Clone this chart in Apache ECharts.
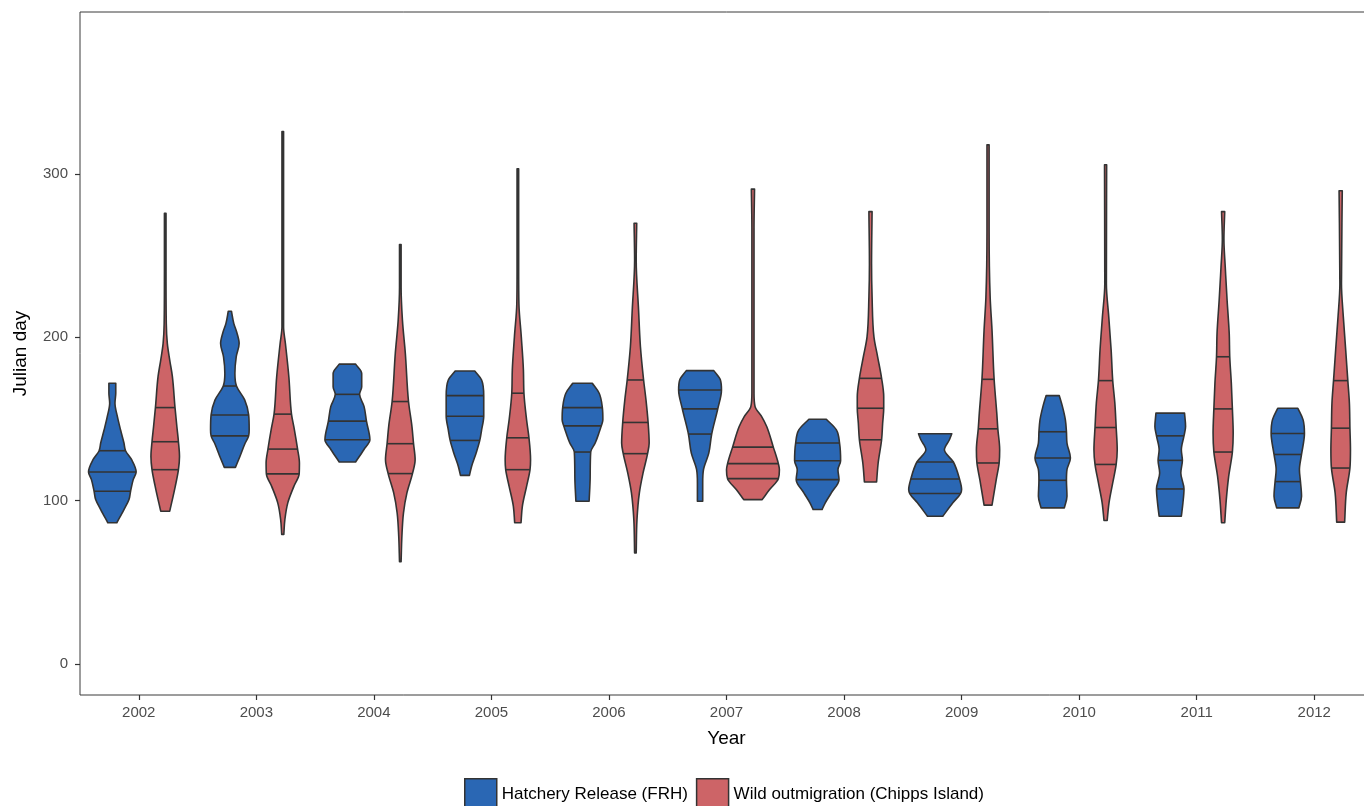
<!DOCTYPE html>
<html>
<head>
<meta charset="utf-8">
<title>Julian day by year</title>
<script src="https://cdn.jsdelivr.net/npm/echarts@6/dist/echarts.min.js"></script>
<style>
  html, body { margin: 0; padding: 0; background: #ffffff; overflow: hidden; }
  /* the panel runs on past the right edge of the window */
  #chart { width: 1376px; height: 806px; }
</style>
</head>
<body>
<div id="chart"></div>
<script>
// Years on the category axis
const years = ['2002', '2003', '2004', '2005', '2006', '2007', '2008', '2009', '2010', '2011', '2012'];
const yTicks = [0, 100, 200, 300];

// Density profiles, bottom to top: [julian day, relative density (1 = widest violin)]
const hatcheryProfiles = [
  [[86.4, .17], [94.5, .44], [100.6, .63], [105.7, .69], [112.8, .79], [117.5, .90], [125, .73], [130.5, .50], [135.2, .44], [143.3, .31], [151.5, .19], [159.6, .10], [165.7, .13], [171.8, .13]],
  [[120.3, .21], [127, .38], [135.2, .58], [139.6, .71], [143.3, .73], [152.4, .71], [161.6, .56], [170.1, .25], [177.8, .19], [188, .24], [196.1, .35], [203, .26], [208.3, .15], [215.9, .06]],
  [[123.6, .31], [131.1, .62], [137.2, .85], [148.6, .72], [157.5, .63], [165, .46], [169.7, .54], [177.8, .54], [183.5, .31]],
  [[115.4, .17], [120.9, .25], [129, .42], [136.8, .56], [143.3, .63], [151.6, .71], [164.2, .71], [173.8, .63], [179.3, .37]],
  [[99.6, .25], [114.8, .29], [129.7, .31], [135.2, .48], [141.3, .62], [145.7, .71], [149.4, .77], [156.9, .75], [165.7, .63], [171.8, .37]],
  [[99.6, .10], [110.8, .10], [118.9, .13], [129, .33], [140.7, .44], [156.1, .67], [167.7, .81], [173.8, .77], [179.5, .52]],
  [[94.5, .17], [98.6, .29], [104.7, .52], [112.8, .81], [118.9, .77], [124.4, .87], [135.2, .83], [143.3, .71], [149.8, .33]],
  [[90.4, .29], [98.6, .67], [104.3, .96], [106.7, 1.0], [113.2, .92], [123.6, .69], [131.1, .35], [137.2, .54], [140.9, .63]],
  [[95.5, .44], [102.6, .54], [112.4, .52], [118.9, .54], [126, .67], [135.2, .54], [142.1, .52], [149.4, .48], [157.5, .37], [164.2, .25]],
  [[90.4, .42], [98.6, .48], [107.1, .52], [116.9, .40], [124.6, .46], [131.1, .42], [139.6, .52], [145.3, .58], [153.5, .54]],
  [[95.5, .42], [102.6, .52], [111.6, .48], [118.9, .44], [128.2, .52], [141, .63], [149.4, .58], [156.5, .38]]
];

const wildProfiles = [
  [[93.5, .17], [108.7, .38], [118.9, .50], [127, .54], [136, .50], [145.3, .44], [156.9, .37], [176, .27], [186, .17], [196, .08], [208.3, .04], [240, .03], [275.8, .03]],
  [[79.3, .04], [88.4, .08], [98.6, .19], [108.7, .42], [116.3, .62], [123, .63], [131.5, .56], [143.3, .44], [152.9, .33], [175.8, .23], [196.1, .10], [206.3, .03], [260, .03], [325.8, .03]],
  [[62.6, .03], [78.3, .06], [92.5, .12], [104.7, .25], [116.5, .46], [125, .56], [134.8, .50], [145.3, .44], [160.6, .31], [190, .19], [210.4, .08], [230.7, .03], [256.7, .03]],
  [[86.4, .12], [96.5, .17], [108.7, .33], [118.9, .46], [125, .48], [138.4, .42], [149.4, .33], [165.7, .23], [179.9, .21], [200.2, .13], [220.5, .04], [240, .03], [303, .03]],
  [[67.9, .03], [88.4, .06], [104.7, .15], [116.9, .29], [128.7, .46], [135.2, .52], [147.8, .48], [161.6, .40], [173.8, .31], [194.1, .19], [216.5, .12], [247, .03], [269.7, .05]],
  [[100.6, .35], [106.7, .63], [113.4, .96], [118.9, 1.0], [122.6, .96], [132.7, .77], [145.3, .52], [151.4, .33], [157.5, .08], [165.7, .04], [267, .04], [290.6, .06]],
  [[111.4, .23], [123, .29], [137.2, .42], [147.4, .46], [156.5, .50], [163.6, .50], [174.8, .42], [188, .27], [200.2, .13], [224.6, .06], [244.9, .04], [276.8, .06]],
  [[97.2, .15], [112.8, .31], [123, .42], [131.1, .44], [143.9, .37], [153.5, .33], [174.2, .23], [204.3, .15], [224.6, .08], [265, .04], [317.7, .04]],
  [[87.8, .06], [98.6, .13], [110.8, .27], [122.1, .40], [131.1, .44], [144.7, .40], [159.6, .35], [173.4, .27], [192.1, .21], [212.4, .12], [232.7, .03], [305.5, .04]],
  [[86.4, .06], [100.6, .12], [114.8, .21], [129.7, .35], [141.3, .38], [156.1, .35], [171.8, .31], [188, .25], [202.3, .23], [222.6, .15], [242.9, .08], [260, .03], [276.8, .06]],
  [[86.8, .15], [104.7, .21], [119.9, .35], [131.1, .37], [144.3, .35], [159.6, .33], [173.4, .27], [192.1, .19], [212.4, .10], [232.7, .03], [289.6, .06]]
];

// Quartiles drawn across each violin: [25%, 50%, 75%]
const hatcheryQuartiles = [
  [105.7, 117.5, 130.5], [139.6, 152.4, 170.1], [137.2, 148.6, 165.0], [136.8, 151.6, 164.2],
  [129.7, 145.7, 156.9], [140.7, 156.1, 167.7], [112.8, 124.4, 135.2], [104.3, 113.2, 123.6],
  [112.4, 126.0, 142.1], [107.1, 124.6, 139.6], [111.6, 128.2, 141.0]
];
const wildQuartiles = [
  [118.9, 136.0, 156.9], [116.3, 131.5, 152.9], [116.5, 134.8, 160.6], [118.9, 138.4, 165.7],
  [128.7, 147.8, 173.8], [113.4, 122.6, 132.7], [137.2, 156.5, 174.8], [123.0, 143.9, 174.2],
  [122.1, 144.7, 173.4], [129.7, 156.1, 188.0], [119.9, 144.3, 173.4]
];

const BLUE = '#2a67b4';
const RED = '#cd6467';
const OUTLINE = '#333333';
const DODGE = 0.225;        // offset of each group from the category centre (band fraction)
const VIOLIN_WIDTH = 0.45;  // full width of a violin at density 1 (band fraction)
const FONT = '"Liberation Sans", Arial, Helvetica, sans-serif';

// Fritsch-Carlson monotone slopes so the outline never overshoots between samples
function monotoneSlopes(xs, ys) {
  const n = xs.length, d = [], m = new Array(n);
  for (let k = 0; k < n - 1; k++) d[k] = (ys[k + 1] - ys[k]) / (xs[k + 1] - xs[k]);
  m[0] = d[0];
  m[n - 1] = d[n - 2];
  for (let k = 1; k < n - 1; k++) m[k] = d[k - 1] * d[k] <= 0 ? 0 : (d[k - 1] + d[k]) / 2;
  for (let k = 0; k < n - 1; k++) {
    if (d[k] === 0) { m[k] = 0; m[k + 1] = 0; continue; }
    const a = m[k] / d[k], b = m[k + 1] / d[k], s = a * a + b * b;
    if (s > 9) { const t = 3 / Math.sqrt(s); m[k] = t * a * d[k]; m[k + 1] = t * b * d[k]; }
  }
  return m;
}

function hermiteAt(sy, hw, m, y) {
  for (let k = 0; k < sy.length - 1; k++) {
    const lo = Math.min(sy[k], sy[k + 1]), hi = Math.max(sy[k], sy[k + 1]);
    if (y >= lo && y <= hi) {
      const h = sy[k + 1] - sy[k];
      const t = h === 0 ? 0 : (y - sy[k]) / h;
      const t2 = t * t, t3 = t2 * t;
      return (2 * t3 - 3 * t2 + 1) * hw[k] + (t3 - 2 * t2 + t) * h * m[k] +
             (-2 * t3 + 3 * t2) * hw[k + 1] + (t3 - t2) * h * m[k + 1];
    }
  }
  return 0;
}

function violinRenderer(profiles, quartiles, shift, fill) {
  return function (params, api) {
    const i = api.value(0);
    const prof = profiles[i];
    const band = api.size([1, 0])[0];
    const cx = api.coord([i, 0])[0] + shift * band;
    const half = band * VIOLIN_WIDTH / 2;
    const sy = prof.map(p => api.coord([i, p[0]])[1]);
    const hw = prof.map(p => p[1] * half);
    const m = monotoneSlopes(sy, hw);
    const n = sy.length;
    const f = v => v.toFixed(2);

    let d = 'M' + f(cx - hw[0]) + ',' + f(sy[0]);
    for (let k = 0; k < n - 1; k++) {
      const h = sy[k + 1] - sy[k];
      d += ' C' + f(cx - (hw[k] + m[k] * h / 3)) + ',' + f(sy[k] + h / 3) + ' ' +
           f(cx - (hw[k + 1] - m[k + 1] * h / 3)) + ',' + f(sy[k + 1] - h / 3) + ' ' +
           f(cx - hw[k + 1]) + ',' + f(sy[k + 1]);
    }
    d += ' L' + f(cx + hw[n - 1]) + ',' + f(sy[n - 1]);
    for (let k = n - 1; k > 0; k--) {
      const h = sy[k - 1] - sy[k];
      d += ' C' + f(cx + (hw[k] + m[k] * h / 3)) + ',' + f(sy[k] + h / 3) + ' ' +
           f(cx + (hw[k - 1] - m[k - 1] * h / 3)) + ',' + f(sy[k - 1] - h / 3) + ' ' +
           f(cx + hw[k - 1]) + ',' + f(sy[k - 1]);
    }
    d += ' Z';

    const children = [{
      type: 'path',
      shape: { pathData: d },
      style: { fill: fill, stroke: OUTLINE, lineWidth: 1.6, lineJoin: 'round' }
    }];
    quartiles[i].forEach(q => {
      const y = api.coord([i, q])[1];
      const w = hermiteAt(sy, hw, m, y);
      children.push({
        type: 'line',
        shape: { x1: cx - w, y1: y, x2: cx + w, y2: y },
        style: { stroke: OUTLINE, lineWidth: 1.6 }
      });
    });
    return { type: 'group', children: children };
  };
}

function seriesData(profiles) {
  return profiles.map((p, i) => [i, p[0][0], p[p.length - 1][0]]);
}

const chart = echarts.init(document.getElementById('chart'), null, { renderer: 'canvas' });

chart.setOption({
  animation: false,
  backgroundColor: '#ffffff',
  textStyle: { fontFamily: FONT },
  grid: {
    left: 80, top: 12, bottom: 111, right: 3,
    show: true, borderColor: '#3a3a3a', borderWidth: 1, backgroundColor: 'transparent'
  },
  legend: {
    left: 464, top: 778, padding: 0,
    icon: 'rect', itemWidth: 32, itemHeight: 32, itemGap: 8,
    textStyle: { fontSize: 17, color: '#000000', fontFamily: FONT, padding: [0, 0, 0, 0] },
    data: [
      { name: 'Hatchery Release (FRH)', itemStyle: { color: BLUE, borderColor: OUTLINE, borderWidth: 1.5 } },
      { name: 'Wild outmigration (Chipps Island)', itemStyle: { color: RED, borderColor: OUTLINE, borderWidth: 1.5 } }
    ]
  },
  xAxis: {
    type: 'category',
    data: years,
    name: 'Year',
    nameLocation: 'middle',
    nameGap: 34,
    nameTextStyle: { fontSize: 19, color: '#000000', fontFamily: FONT },
    axisLine: { show: false, onZero: false },
    axisTick: { show: true, alignWithLabel: true, length: 5, lineStyle: { color: '#333333', width: 1.2 } },
    axisLabel: { fontSize: 15, color: '#4d4d4d', margin: 10, fontFamily: FONT },
    splitLine: { show: false }
  },
  yAxis: {
    type: 'value',
    min: -19, max: 399,
    name: 'Julian day',
    nameLocation: 'middle',
    nameGap: 50,
    nameRotate: 90,
    nameTextStyle: { fontSize: 19, color: '#000000', fontFamily: FONT },
    axisLine: { show: false, onZero: false },
    axisTick: { show: true, length: 5, customValues: yTicks, lineStyle: { color: '#333333', width: 1.2 } },
    axisLabel: { fontSize: 15, color: '#4d4d4d', margin: 12, customValues: yTicks, fontFamily: FONT },
    splitLine: { show: false }
  },
  series: [
    {
      name: 'Hatchery Release (FRH)',
      type: 'custom',
      itemStyle: { color: BLUE },
      renderItem: violinRenderer(hatcheryProfiles, hatcheryQuartiles, -DODGE, BLUE),
      encode: { x: 0, y: [1, 2] },
      data: seriesData(hatcheryProfiles)
    },
    {
      name: 'Wild outmigration (Chipps Island)',
      type: 'custom',
      itemStyle: { color: RED },
      renderItem: violinRenderer(wildProfiles, wildQuartiles, DODGE, RED),
      encode: { x: 0, y: [1, 2] },
      data: seriesData(wildProfiles)
    }
  ]
});
</script>
</body>
</html>
